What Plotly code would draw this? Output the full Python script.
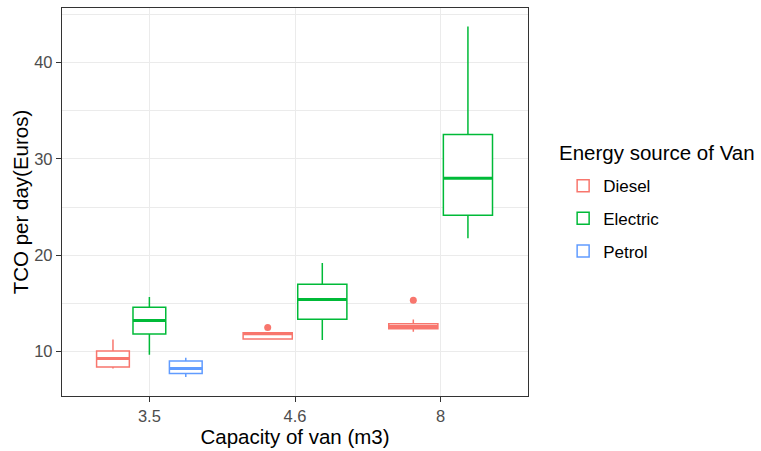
import plotly.graph_objects as go

# ---------------- data ----------------
capacities = ["3.5", "4.6", "8"]
sources = ["Diesel", "Electric", "Petrol"]
legend_title = "Energy source of Van"

diesel_lower = [8.24, 11.30, 12.06]
diesel_q1 = [8.41, 11.32, 12.37]
diesel_median = [9.28, 11.85, 12.60]
diesel_q3 = [10.06, 11.97, 12.89]
diesel_upper = [11.27, 11.98, 13.33]
diesel_outliers = [[], [12.51], [15.33]]

electric_lower = [9.69, 11.20, 21.77]
electric_q1 = [11.82, 13.37, 24.14]
electric_median = [13.23, 15.40, 28.00]
electric_q3 = [14.60, 16.98, 32.54]
electric_upper = [15.68, 19.19, 43.72]
electric_outliers = [[], [], []]

petrol_lower = [7.38, None, None]
petrol_q1 = [7.73, None, None]
petrol_median = [8.24, None, None]
petrol_q3 = [9.03, None, None]
petrol_upper = [9.38, None, None]
petrol_outliers = [[], [], []]

colors = ["#F8766D", "#00BA38", "#619CFF"]

stats = {
    "Diesel": (diesel_lower, diesel_q1, diesel_median, diesel_q3, diesel_upper, diesel_outliers),
    "Electric": (electric_lower, electric_q1, electric_median, electric_q3, electric_upper, electric_outliers),
    "Petrol": (petrol_lower, petrol_q1, petrol_median, petrol_q3, petrol_upper, petrol_outliers),
}

DODGE = 0.75
PAD = 0.1
FONT = "Liberation Sans, Arial, sans-serif"

fig = go.Figure()
shown = set()
median_traces = []
outlier_traces = []

for c, cap in enumerate(capacities):
    present = [s for s in sources if stats[s][2][c] is not None]
    n = len(present)
    slot = DODGE / n
    for i, src in enumerate(present):
        lo, q1, med, q3, up, outl = stats[src]
        col = colors[sources.index(src)]
        pos = c + (i - (n - 1) / 2) * slot
        w = slot * (1 - PAD)
        fig.add_trace(go.Box(
            x=[pos], q1=[q1[c]], median=[med[c]], q3=[q3[c]],
            lowerfence=[lo[c]], upperfence=[up[c]],
            width=w, orientation="v",
            fillcolor="white", line=dict(color=col, width=1.5),
            whiskerwidth=0, boxpoints=False,
            name=src, legendgroup=src, showlegend=src not in shown,
            legendrank=sources.index(src) + 1,
        ))
        shown.add(src)
        median_traces.append(go.Scatter(
            x=[pos - w / 2, pos + w / 2], y=[med[c], med[c]], mode="lines",
            line=dict(color=col, width=3), showlegend=False, hoverinfo="skip",
            legendgroup=src,
        ))
        if outl[c]:
            outlier_traces.append(go.Scatter(
                x=[pos] * len(outl[c]), y=outl[c], mode="markers",
                marker=dict(color=col, size=7), showlegend=False,
                legendgroup=src,
            ))

for t in median_traces + outlier_traces:
    fig.add_trace(t)

axis_common = dict(
    showgrid=True, gridcolor="#EBEBEB", gridwidth=1.4,
    showline=True, mirror=True, linecolor="#333333", linewidth=1.3,
    ticks="outside", ticklen=5, tickwidth=1.3, tickcolor="#333333",
    tickfont=dict(family=FONT, size=16.5, color="#4D4D4D"),
    zeroline=False,
)

fig.update_layout(
    width=761, height=451,
    margin=dict(l=62, r=233, t=7, b=54),
    plot_bgcolor="white", paper_bgcolor="white",
    font=dict(family=FONT, color="black"),
    boxmode="overlay",
    xaxis=dict(
        range=[-0.6, 2.6], tickmode="array", tickvals=[0, 1, 2], ticktext=capacities,
        title=dict(text="Capacity of van (m3)", font=dict(family=FONT, size=20.5, color="black"), standoff=5),
        **axis_common,
    ),
    yaxis=dict(
        range=[5.4, 45.65], tickmode="array", tickvals=[10, 20, 30, 40],
        minor=dict(tickmode="array", tickvals=[5, 15, 25, 35, 45], showgrid=True,
                   gridcolor="#EBEBEB", gridwidth=0.7, ticks=""),
        title=dict(text="TCO per day(Euros)", font=dict(family=FONT, size=20.5, color="black"), standoff=0),
        **axis_common,
    ),
    legend=dict(
        font=dict(family=FONT, size=17, color="black"),
        xref="container", yref="container", x=0.740, y=0.627,
        xanchor="left", yanchor="top",
        traceorder="grouped", tracegroupgap=7.5,
        bgcolor="rgba(0,0,0,0)",
    ),
    annotations=[dict(
        text=legend_title, xref="paper", yref="paper", x=1.062, y=0.628,
        xanchor="left", yanchor="middle", showarrow=False,
        font=dict(family=FONT, size=20.5, color="black"),
    )],
    showlegend=True,
)

fig.write_html("out.html")
